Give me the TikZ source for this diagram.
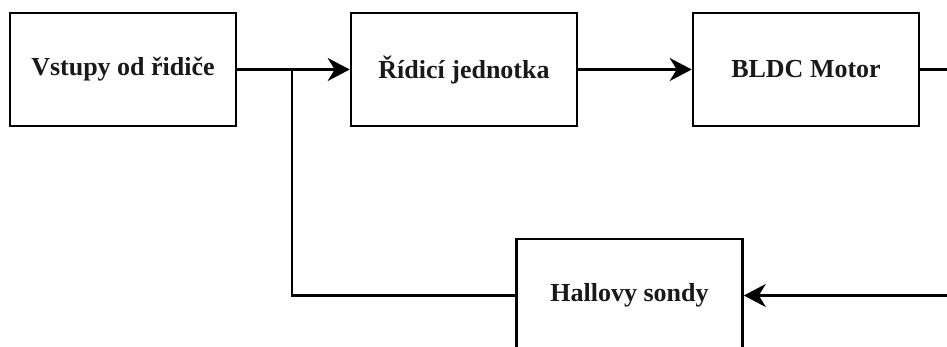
\documentclass[tikz,border=0pt]{standalone}
\usepackage{fontspec}
\setmainfont{Liberation Serif}
\usetikzlibrary{arrows.meta}
\begin{document}
\begin{tikzpicture}[x=1pt,y=-1pt,
  block/.style={draw=black, line width=2.6pt, minimum width=226pt, minimum height=113pt,
    inner sep=0pt, font=\fontsize{26}{30}\selectfont\bfseries, text=black!90},
  link/.style={line width=2.6pt},
  tip/.style={-{Stealth[length=22pt,width=23pt,inset=7pt]}}]
\useasboundingbox (0,0) rectangle (947,347);
\clip (0,0) rectangle (947,347);

% blocks
\node[block] (in)    at (123,69.5)   {Vstupy od řidiče};
\node[block] (ctrl)  at (464,69.5)   {Řídicí jednotka};
\node[block] (motor) at (806,69.5)   {BLDC Motor};
\node[block] (hall)  at (629.5,295.5) {Hallovy sondy};

% free ends and junction
\coordinate (jn)   at (292,69.5);
\coordinate (out)  at (952,69.5);
\coordinate (back) at (952,295.5);

% connectors
\draw[link,tip] (in.east) -- (ctrl.west);
\draw[link,tip] (ctrl.east) -- (motor.west);
\draw[link] (motor.east) -- (out);
\draw[link,tip] (back) -- (hall.east);
\draw[link] (hall.west) -- (hall.west -| jn) -- (jn);
\end{tikzpicture}
\end{document}
